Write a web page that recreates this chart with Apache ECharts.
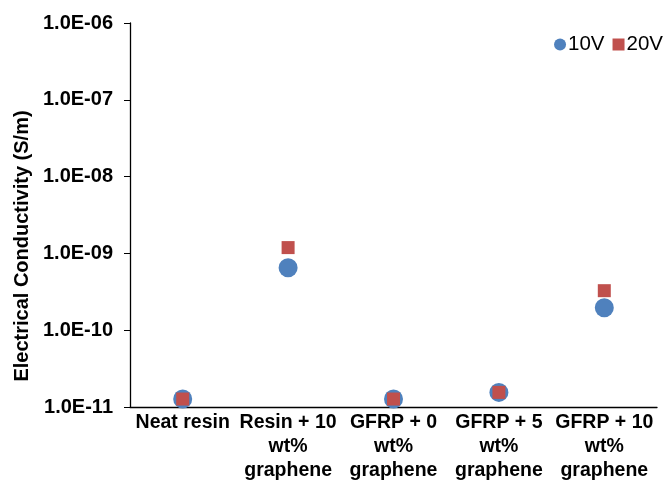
<!DOCTYPE html>
<html>
<head>
<meta charset="utf-8">
<script src="https://cdn.jsdelivr.net/npm/echarts@6/dist/echarts.min.js"></script>
<style>html,body{margin:0;padding:0;background:#fff}#c{width:666px;height:490px}</style>
</head>
<body>
<div id="c"></div>
<script>
const categories = ['Neat resin', 'Resin + 10\nwt%\ngraphene', 'GFRP + 0\nwt%\ngraphene', 'GFRP + 5\nwt%\ngraphene', 'GFRP + 10\nwt%\ngraphene'];
const series10V = [1.27e-11, 6.5e-10, 1.27e-11, 1.55e-11, 1.96e-10];
const series20V = [1.27e-11, 1.19e-9, 1.27e-11, 1.55e-11, 3.27e-10];
const yTickLabels = ['1.0E-11', '1.0E-10', '1.0E-09', '1.0E-08', '1.0E-07', '1.0E-06'];
const yMinExp = -11, yMaxExp = -6;

const font = 'Liberation Sans, Arial, sans-serif';
const chart = echarts.init(document.getElementById('c'), null, {renderer: 'canvas'});
chart.setOption({
  animation: false,
  backgroundColor: '#fff',
  textStyle: {fontFamily: font, color: '#000'},
  legend: {
    right: -2, top: 29,
    itemWidth: 12, itemHeight: 12, itemGap: 8,
    textStyle: {fontFamily: font, fontSize: 20.5, color: '#000', padding: [0, 0, 0, -3]},
    data: [{name: '10V', icon: 'circle'}, {name: '20V', icon: 'rect'}]
  },
  grid: {left: 130, right: 9, top: 23, bottom: 83, containLabel: false},
  xAxis: {
    type: 'category',
    data: categories,
    boundaryGap: true,
    axisLine: {show: true, lineStyle: {color: '#000', width: 1.3}},
    axisTick: {show: false},
    axisLabel: {interval: 0, margin: 4, fontFamily: font, fontWeight: 'bold', fontSize: 19.5, lineHeight: 24, color: '#000'}
  },
  yAxis: {
    type: 'log',
    logBase: 10,
    min: Math.pow(10, yMinExp),
    max: Math.pow(10, yMaxExp),
    splitLine: {show: false},
    axisLine: {show: true, lineStyle: {color: '#000', width: 1.3}},
    axisTick: {show: true, length: 6, lineStyle: {color: '#000'}},
    axisLabel: {
      margin: 17, fontFamily: font, fontWeight: 'bold', fontSize: 20, color: '#000',
      formatter: function (v) {
        const e = Math.round(Math.log10(v));
        return yTickLabels[e - yMinExp] || '';
      }
    },
    name: 'Electrical Conductivity (S/m)',
    nameLocation: 'middle',
    nameGap: 96,
    nameTextStyle: {fontFamily: font, fontWeight: 'bold', fontSize: 20, color: '#000', padding: [0, 62, 0, 0]}
  },
  series: [
    {name: '10V', type: 'scatter', symbol: 'circle', symbolSize: 19, data: series10V,
     itemStyle: {color: '#4F81BD', opacity: 1}},
    {name: '20V', type: 'scatter', symbol: 'rect', symbolSize: 13, data: series20V,
     itemStyle: {color: '#C0504D', opacity: 1}}
  ]
});
</script>
</body>
</html>
